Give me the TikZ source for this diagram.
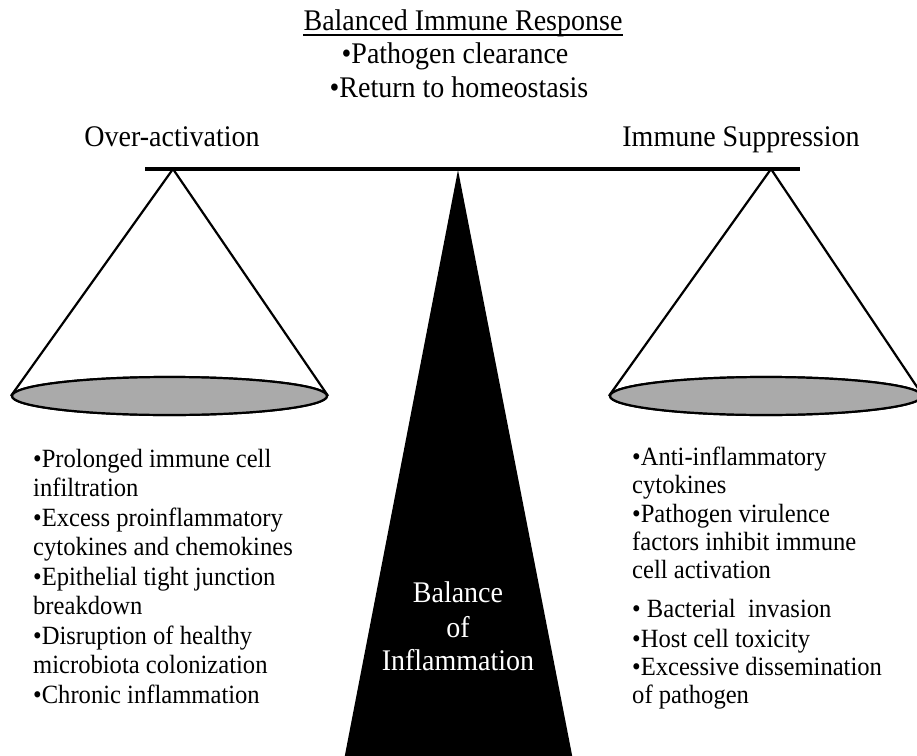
\documentclass[tikz,border=0pt]{standalone}
\usepackage{fontspec}
\usepackage{graphicx}
\setmainfont{Liberation Serif}
\usetikzlibrary{shapes.geometric}
\definecolor{panfill}{RGB}{170,170,170}
\newcommand{\tallt}[1]{\scalebox{1}[1.07]{#1}}
\begin{document}
\begin{tikzpicture}[x=1bp,y=-1bp,
  txt/.style={inner sep=0pt, anchor=base west, font=\fontsize{24.6bp}{29.5bp}\selectfont},
  big/.style={inner sep=0pt, anchor=base, font=\fontsize{28bp}{33.6bp}\selectfont},
  pan/.style={ellipse, draw, line width=2.2bp, fill=panfill, inner sep=0pt, minimum width=315bp, minimum height=38bp},
  rope/.style={line width=2.2bp},
  beamline/.style={line width=4bp}]
\useasboundingbox (0,0) rectangle (917,756);
\clip (0,0) rectangle (917,756);
% fulcrum
\coordinate (F) at (458,170);
\coordinate (FL) at (344,760);
\coordinate (FR) at (573,760);
\fill (F) -- (FL) -- (FR) -- cycle;
% cone apexes
\coordinate (LA) at (173,169);
\coordinate (RA) at (771,169);
% pans
\node[pan] (LP) at (169.5,396) {};
\node[pan, minimum width=312bp] (RP) at (766,396) {};
\draw[rope] (LP.west) -- (LA) -- (LP.east);
\draw[rope] (RP.west) -- (RA) -- (RP.east);
\node[pan] at (LP.center) {};
\node[pan, minimum width=312bp] at (RP.center) {};
% beam
\coordinate (BL) at (145,169);
\coordinate (BR) at (800,169);
\draw[beamline] (BL) -- (BR);
% top texts
\node[big] (T1) at (463,31) {\tallt{Balanced Immune Response}};
\draw[line width=1.3bp] ([yshift=-4bp]T1.base west) -- ([yshift=-4bp]T1.base east);
\node[big] (T2) at (455,64) {\tallt{•Pathogen clearance}};
\node[big] (T3) at (459,97) {\tallt{•Return to homeostasis}};
\node[big] (OA) at (172,146) {\tallt{Over-activation}};
\node[big] (IS) at (741,146) {\tallt{Immune Suppression}};
% fulcrum label
\node[big, text=white] (B1) at (458,602) {\tallt{Balance}};
\node[big, text=white] (B2) at (458,637) {\tallt{of}};
\node[big, text=white] (B3) at (458,670) {\tallt{Inflammation}};
% left list
\foreach \t/\y [count=\i] in {•Prolonged immune cell/467, infiltration/496.5, •Excess proinflammatory/526, cytokines and chemokines/555.5, •Epithelial tight junction/585, breakdown/614.5, •Disruption of healthy/644, microbiota colonization/673.5, •Chronic inflammation/703}
  \node[txt] (L\i) at (33,\y) {\tallt{\t}};
% right list
\foreach \t/\y [count=\i] in {•Anti-inflammatory/465, cytokines/493.5, •Pathogen virulence/522, factors inhibit immune/550, cell activation/578.5, • Bacterial\ \ invasion/617, •Host cell toxicity/647, •Excessive dissemination/675, of pathogen/703}
  \node[txt] (R\i) at (632,\y) {\tallt{\t}};
\end{tikzpicture}
\end{document}
